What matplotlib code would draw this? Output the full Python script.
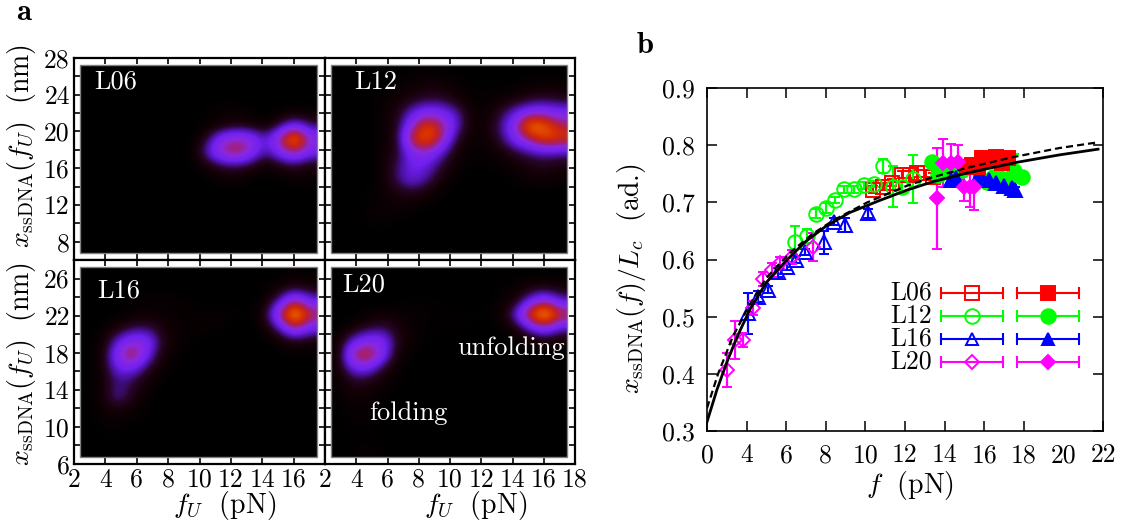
import matplotlib
matplotlib.use('Agg')
import numpy as np
import matplotlib.pyplot as plt
from matplotlib.colors import LinearSegmentedColormap
from matplotlib.patches import Rectangle

plt.rcParams['font.family'] = 'cmr10'
plt.rcParams['mathtext.fontset'] = 'cm'
plt.rcParams['axes.formatter.use_mathtext'] = True

W, H = 1131, 522
FS = 20
TICK_FS = 18.5

# density maps, estimated on a coarse grid (top row first)
L06_map = [
    [0, 0, 0, 0, 0, 0, 0, 0, 0, 0, 0, 0, 0, 0, 0, 0],
    [0, 0, 0, 0, 0, 0, 0, 0, 0, 0, 0, 0, 0, 0, 0, 0],
    [0, 0, 0, 0, 0, 0, 0, 0, 0, 0, 0, 0, 0, 0, 0, 0],
    [0, 0, 0, 0, 0, 0, 0, 0, 1, 4, 4, 1, 0, 1, 3, 2],
    [0, 0, 0, 0, 0, 0, 0, 0, 1, 3, 8, 6, 2, 14, 32, 16],
    [0, 0, 0, 0, 0, 0, 0, 0, 10, 40, 48, 44, 22, 52, 95, 42],
    [0, 0, 0, 0, 0, 0, 0, 0, 22, 48, 60, 44, 17, 36, 52, 32],
    [0, 0, 0, 0, 0, 0, 0, 0, 5, 12, 15, 10, 2, 8, 12, 6],
    [0, 0, 0, 0, 0, 0, 0, 0, 1, 3, 3, 1, 0, 1, 3, 3],
    [0, 0, 0, 0, 0, 0, 0, 0, 0, 0, 0, 0, 0, 0, 0, 0],
    [0, 0, 0, 0, 0, 0, 0, 0, 0, 0, 0, 0, 0, 0, 0, 0],
    [0, 0, 0, 0, 0, 0, 0, 0, 0, 0, 0, 0, 0, 0, 0, 0],
    [0, 0, 0, 0, 0, 0, 0, 0, 0, 0, 0, 0, 0, 0, 0, 0],
    [0, 0, 0, 0, 0, 0, 0, 0, 0, 0, 0, 0, 0, 0, 0, 0],
]
L12_map = [
    [0, 0, 0, 0, 0, 1, 2, 1, 0, 0, 0, 0, 0, 0, 0, 0],
    [0, 0, 0, 0, 2, 4, 6, 6, 3, 1, 1, 1, 1, 3, 4, 3],
    [0, 0, 0, 3, 5, 8, 12, 12, 6, 2, 2, 3, 6, 10, 12, 10],
    [0, 0, 0, 3, 8, 25, 36, 32, 22, 4, 3, 12, 25, 36, 38, 32],
    [0, 0, 0, 3, 10, 42, 72, 55, 26, 4, 4, 18, 42, 90, 78, 55],
    [0, 0, 0, 3, 10, 62, 80, 52, 12, 3, 4, 14, 35, 52, 75, 68],
    [0, 0, 0, 4, 10, 36, 42, 24, 6, 2, 2, 5, 12, 18, 22, 20],
    [0, 0, 0, 4, 16, 30, 27, 13, 3, 1, 1, 2, 4, 8, 10, 7],
    [0, 0, 0, 4, 17, 30, 20, 6, 1, 0, 0, 0, 2, 4, 5, 3],
    [0, 0, 1, 3, 8, 10, 6, 2, 0, 0, 0, 0, 0, 0, 0, 0],
    [0, 0, 2, 4, 4, 3, 1, 0, 0, 0, 0, 0, 0, 0, 0, 0],
    [0, 0, 2, 3, 1, 0, 0, 0, 0, 0, 0, 0, 0, 0, 0, 0],
    [0, 0, 0, 0, 0, 0, 0, 0, 0, 0, 0, 0, 0, 0, 0, 0],
    [0, 0, 0, 0, 0, 0, 0, 0, 0, 0, 0, 0, 0, 0, 0, 0],
]
L16_map = [
    [0, 0, 0, 0, 0, 0, 0, 0, 0, 0, 0, 0, 0, 1, 2, 1],
    [0, 0, 0, 0, 0, 0, 0, 0, 0, 0, 0, 0, 1, 4, 10, 6],
    [0, 0, 0, 2, 3, 3, 2, 1, 0, 0, 0, 0, 3, 22, 52, 28],
    [0, 0, 1, 2, 3, 3, 3, 2, 2, 3, 2, 0, 10, 52, 105, 58],
    [0, 2, 6, 14, 16, 8, 3, 2, 3, 1, 0, 0, 3, 22, 52, 30],
    [0, 3, 25, 42, 40, 12, 3, 1, 0, 0, 0, 0, 0, 3, 8, 5],
    [0, 5, 38, 65, 32, 6, 2, 0, 0, 0, 0, 0, 0, 0, 1, 1],
    [0, 5, 28, 30, 13, 3, 0, 0, 0, 0, 0, 0, 0, 0, 0, 0],
    [0, 4, 18, 14, 5, 1, 0, 0, 0, 0, 0, 0, 0, 0, 0, 0],
    [1, 4, 24, 11, 2, 0, 0, 0, 0, 0, 0, 0, 0, 0, 0, 0],
    [0, 3, 7, 3, 1, 0, 0, 0, 0, 0, 0, 0, 0, 0, 0, 0],
    [0, 2, 2, 1, 0, 0, 0, 0, 0, 0, 0, 0, 0, 0, 0, 0],
    [0, 1, 1, 0, 0, 0, 0, 0, 0, 0, 0, 0, 0, 0, 0, 0],
    [0, 0, 0, 0, 0, 0, 0, 0, 0, 0, 0, 0, 0, 0, 0, 0],
]
L20_map = [
    [0, 0, 0, 0, 0, 0, 0, 0, 0, 0, 0, 0, 0, 0, 0, 0],
    [0, 0, 0, 0, 0, 0, 0, 0, 0, 0, 0, 1, 3, 6, 8, 5],
    [0, 0, 0, 0, 0, 1, 1, 1, 0, 0, 0, 3, 5, 28, 45, 24],
    [0, 0, 2, 4, 4, 3, 2, 1, 1, 1, 1, 3, 25, 72, 105, 62],
    [0, 5, 12, 16, 8, 3, 1, 1, 1, 1, 0, 1, 5, 24, 40, 22],
    [3, 28, 40, 38, 10, 3, 1, 0, 0, 0, 0, 0, 1, 3, 5, 3],
    [3, 55, 68, 36, 6, 1, 0, 0, 0, 0, 0, 0, 0, 0, 0, 0],
    [3, 28, 30, 11, 2, 0, 0, 0, 0, 0, 0, 0, 0, 0, 0, 0],
    [2, 10, 8, 4, 1, 0, 0, 0, 0, 0, 0, 0, 0, 0, 0, 0],
    [2, 5, 4, 2, 0, 0, 0, 0, 0, 0, 0, 0, 0, 0, 0, 0],
    [0, 3, 3, 1, 0, 0, 0, 0, 0, 0, 0, 0, 0, 0, 0, 0],
    [0, 2, 1, 0, 0, 0, 0, 0, 0, 0, 0, 0, 0, 0, 0, 0],
    [0, 1, 1, 0, 0, 0, 0, 0, 0, 0, 0, 0, 0, 0, 0, 0],
    [0, 1, 3, 1, 0, 0, 0, 0, 0, 0, 0, 0, 0, 0, 0, 0],
]

# panel b, x is in axis tick units (the labels skip 2)
solid_x = [0, 0.5, 1, 1.5, 2.17, 3, 4, 5, 6, 7.2, 8.7, 10.15, 11.4, 13.1, 15.65, 17.8, 19.75]
solid_y = [0.316, 0.372, 0.42, 0.463, 0.513, 0.56, 0.598, 0.632, 0.658, 0.682, 0.703, 0.722, 0.736, 0.751, 0.77, 0.783, 0.793]
dash_x = [0, 0.56, 1.3, 2.17, 3, 4.2, 5.3, 6.4, 8.1, 10.1, 11.4, 13.1, 15.45, 17.8, 19.75]
dash_y = [0.34, 0.40, 0.465, 0.522, 0.568, 0.612, 0.644, 0.669, 0.70, 0.729, 0.744, 0.76, 0.779, 0.795, 0.805]

l06_open_x = [8.4, 8.9, 9.34, 9.85, 10.25, 10.6, 11, 11.4]
l06_open_y = [0.722, 0.727, 0.734, 0.748, 0.748, 0.751, 0.751, 0.745]
l06_open_e = [0.006, 0.006, 0.006, 0.006, 0.006, 0.006, 0.006, 0.006]
l12_open_x = [4.44, 5.05, 5.5, 6.0, 6.46, 6.9, 7.4, 7.93, 8.43, 8.9, 9.4, 9.85, 10.4]
l12_open_y = [0.63, 0.641, 0.68, 0.69, 0.704, 0.723, 0.723, 0.73, 0.732, 0.764, 0.727, 0.727, 0.741]
l12_open_e = [0.028, 0.012, 0.008, 0.008, 0.006, 0.006, 0.006, 0.006, 0.006, 0.012, 0.036, 0.01, 0.042]
l16_open_x = [2.07, 2.6, 3.07, 3.6, 4.04, 4.5, 4.95, 5.9, 6.4, 6.97, 8.13]
l16_open_y = [0.506, 0.535, 0.547, 0.578, 0.587, 0.60, 0.613, 0.63, 0.666, 0.66, 0.681]
l16_open_e = [0.036, 0.01, 0.006, 0.008, 0.006, 0.006, 0.006, 0.02, 0.006, 0.012, 0.008]
l20_open_x = [1.0, 1.4, 1.83, 2.34, 2.84, 3.3, 3.7, 4.3, 5.35]
l20_open_y = [0.407, 0.459, 0.459, 0.515, 0.566, 0.582, 0.594, 0.604, 0.622]
l20_open_e = [0.03, 0.033, 0.012, 0.012, 0.012, 0.012, 0.01, 0.012, 0.024]

l12_fill_x = [11.36, 11.67, 12.3, 12.9, 14.15, 14.45, 14.8, 15.15, 15.5, 15.9]
l12_fill_y = [0.77, 0.748, 0.751, 0.757, 0.736, 0.744, 0.743, 0.739, 0.755, 0.744]
l12_fill_e = [0.008, 0.008, 0.008, 0.008, 0.006, 0.006, 0.006, 0.006, 0.03, 0.006]
l16_fill_x = [12.3, 12.6, 13.7, 13.95, 14.25, 14.6, 15, 15.4, 15.55]
l16_fill_y = [0.739, 0.743, 0.744, 0.739, 0.739, 0.734, 0.728, 0.725, 0.722]
l16_fill_e = [0.005, 0.005, 0.005, 0.005, 0.005, 0.005, 0.005, 0.005, 0.005]
l06_fill_x = [13.13, 13.4, 13.7, 13.9, 14.3, 14.6, 14.9, 15.2]
l06_fill_y = [0.762, 0.765, 0.762, 0.777, 0.774, 0.779, 0.769, 0.777]
l06_fill_e = [0.005, 0.005, 0.005, 0.005, 0.005, 0.005, 0.005, 0.005]
l20_fill_x = [11.6, 11.9, 12.3, 12.67, 13.0, 13.3, 13.5]
l20_fill_y = [0.707, 0.769, 0.769, 0.77, 0.727, 0.727, 0.727]
l20_fill_e = [0.088, 0.042, 0.033, 0.03, 0.024, 0.035, 0.04]

x_labels = ['0', '4', '6', '8', '10', '12', '14', '16', '18', '20', '22']

cmap = LinearSegmentedColormap.from_list('heat', [
    (0.0, '#000000'), (0.06, '#140006'), (0.13, '#28062c'), (0.2, '#4a10a0'),
    (0.29, '#7020f0'), (0.42, '#8a28e0'), (0.5, '#a02080'), (0.58, '#c02028'),
    (0.66, '#d83000'), (0.78, '#e86000'), (0.92, '#f8a000'), (1.0, '#ffc000')])


def axes_px(left, top, right, bottom):
    return fig.add_axes([left / W, 1 - bottom / H, (right - left) / W, (bottom - top) / H])


def heat_panel(box, data, yticks, show_x, show_y, name, name_xy):
    ax = axes_px(*box)
    ax.imshow(np.array(data, dtype=float), cmap=cmap, vmin=0, vmax=100, aspect='auto',
              extent=(2.4, 17.5, 6.8, 27.2), interpolation='bicubic', zorder=1)
    ax.add_patch(Rectangle((2.4, 6.8), 15.1, 20.4, fill=False, ec='#808080', lw=1, zorder=2))
    ax.set_xlim(2, 18)
    ax.set_ylim(6, 28)
    ax.set_xticks(np.arange(2, 19, 2))
    ax.set_yticks(np.arange(6, 29, 2))
    ax.set_yticklabels([str(v) if v in yticks else '' for v in range(6, 29, 2)])
    ax.tick_params(direction='in', length=4.5, width=1.2, top=True, right=True,
                   labelsize=TICK_FS, pad=3, zorder=3)
    if show_x is None:
        ax.set_xticklabels([])
    else:
        ax.set_xticklabels([str(v) if v in show_x else '' for v in range(2, 19, 2)])
    if not show_y:
        ax.set_yticklabels([])
    for s in ax.spines.values():
        s.set_linewidth(1.6)
    fig.text(name_xy[0] / W, 1 - name_xy[1] / H, name, color='white', fontsize=19,
             ha='left', va='center')
    return ax


fig = plt.figure(figsize=(W / 100, H / 100), dpi=100)

heat_panel((74, 58, 325, 260), L06_map, (8, 12, 16, 20, 24, 28), None, True, 'L06', (94, 82))
heat_panel((325, 58, 575, 260), L12_map, (), None, False, 'L12', (354, 82))
heat_panel((74, 260, 325, 464), L16_map, (6, 10, 14, 18, 22, 26), range(2, 17, 2), True, 'L16', (97, 291))
heat_panel((325, 260, 575, 464), L20_map, (), range(2, 19, 2), False, 'L20', (342, 285))

fig.text(408 / W, 1 - 413 / H, 'folding', color='white', fontsize=19, ha='center', va='center')
fig.text(511 / W, 1 - 348 / H, 'unfolding', color='white', fontsize=19, ha='center', va='center')

ylab = r'$x_{\mathrm{ssDNA}}(f_U)\ $ (nm)'
fig.text(22 / W, 1 - 146 / H, ylab, rotation=90, fontsize=FS, ha='center', va='center')
fig.text(22 / W, 1 - 364 / H, ylab, rotation=90, fontsize=FS, ha='center', va='center')
xlab = r'$f_U\ $ (pN)'
fig.text(225 / W, 1 - 505 / H, xlab, fontsize=FS, ha='center', va='center')
fig.text(476 / W, 1 - 505 / H, xlab, fontsize=FS, ha='center', va='center')
fig.text(24 / W, 1 - 13 / H, 'a', family='cmb10', fontsize=22, ha='center', va='center')
fig.text(645 / W, 1 - 45 / H, 'b', family='cmb10', fontsize=22, ha='center', va='center')

# panel b
ax = axes_px(707, 88, 1103, 431)
ax.set_xlim(0, 20)
ax.set_ylim(0.3, 0.9)
ax.set_xticks(np.arange(0, 21, 2))
ax.set_xticklabels(x_labels)
ax.set_yticks(np.arange(3, 10) / 10)
ax.set_yticklabels(['0.3', '0.4', '0.5', '0.6', '0.7', '0.8', '0.9'])
ax.tick_params(direction='in', length=7, width=1.1, top=True, right=True, labelsize=TICK_FS, pad=9)
# no tick marks at the '20' label
for t in ax.xaxis.get_major_ticks()[9:10]:
    t.tick1line.set_visible(False)
    t.tick2line.set_visible(False)
for s in ax.spines.values():
    s.set_linewidth(1.2)

fig.text(910 / W, 1 - 485 / H, r'$f\ $ (pN)', fontsize=FS, ha='center', va='center')
fig.text(631 / W, 1 - 279 / H, r'$x_{\mathrm{ssDNA}}(f)/L_c\ $ (ad.)', rotation=90,
         fontsize=FS, ha='center', va='center')

red, green, blue, pink = '#ff0000', '#00ff00', '#0000ff', '#ff00ff'
series = [
    (l06_open_x, l06_open_y, l06_open_e, red, 's', 'none', 9.5),
    (l12_open_x, l12_open_y, l12_open_e, green, 'o', 'none', 10.5),
    (l16_open_x, l16_open_y, l16_open_e, blue, '^', 'none', 9.5),
    (l20_open_x, l20_open_y, l20_open_e, pink, 'D', 'none', 7.5),
    (l12_fill_x, l12_fill_y, l12_fill_e, green, 'o', green, 10.5),
    (l16_fill_x, l16_fill_y, l16_fill_e, blue, '^', blue, 9.5),
    (l06_fill_x, l06_fill_y, l06_fill_e, red, 's', red, 9.5),
    (l20_fill_x, l20_fill_y, l20_fill_e, pink, 'D', pink, 7.5),
]
for x, y, e, c, m, mfc, ms in series:
    ax.errorbar(x, y, yerr=e, color=c, marker=m, mfc=mfc, mec=c, ms=ms, mew=1.4,
                ls='none', elinewidth=1.6, capsize=3.5, capthick=1.6, clip_on=False, zorder=3)

ax.plot(solid_x, solid_y, color='black', lw=2, zorder=5)
ax.plot(dash_x, dash_y, color='black', lw=1.6, dashes=(3.2, 1.8), zorder=5)

# hand made legend: name + open and filled samples
legend_rows = [('L06', red, 's', 9.5), ('L12', green, 'o', 10.5), ('L16', blue, '^', 8.5), ('L20', pink, 'D', 7.5)]
for i, (name, c, m, ms) in enumerate(legend_rows):
    py = 293 + i * 23
    yc = 1 - (py - 88) / 343
    fig.text(932 / W, 1 - py / H, name, fontsize=18.5, ha='right', va='center')
    for x0, x1, filled in ((941, 1003, False), (1017, 1079, True)):
        a0, a1 = (x0 - 707) / 396, (x1 - 707) / 396
        ax.plot([a0, a1], [yc, yc], color=c, lw=1.5, transform=ax.transAxes,
                marker='|', ms=9, mew=1.5, zorder=4)
        ax.plot([(a0 + a1) / 2], [yc], color=c, marker=m, ms=ms, mew=1.4,
                mfc=c if filled else 'none', mec=c, transform=ax.transAxes, zorder=5)

fig.savefig('out.png', dpi=100)
